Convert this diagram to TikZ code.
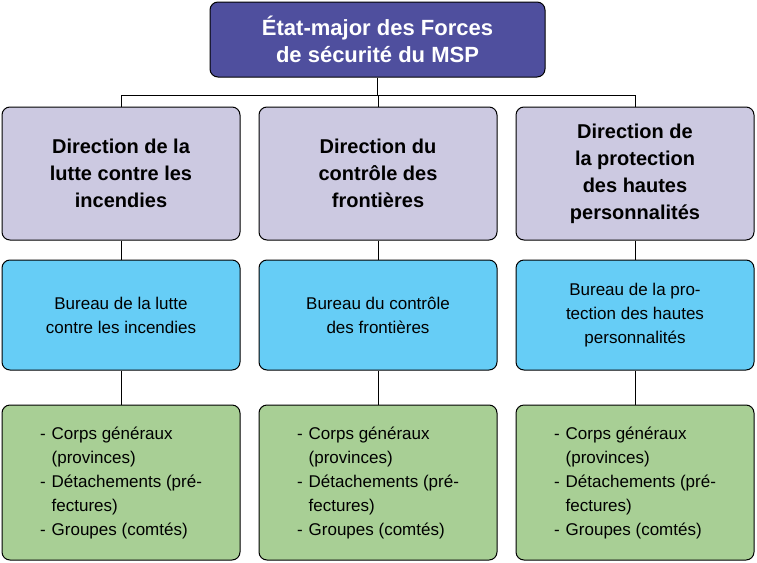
\documentclass[tikz,border=0pt]{standalone}
\usepackage{fontspec}
\setmainfont{Liberation Sans}
\definecolor{topblue}{HTML}{4F4F9E}
\definecolor{lav}{HTML}{CCC9E1}
\definecolor{skyb}{HTML}{66CDF6}
\definecolor{leaf}{HTML}{A8CF95}
\tikzset{
  box/.style={draw=black, line width=1pt, rounded corners=8pt, inner sep=0pt, align=center},
  headbox/.style={box, fill=topblue, text=white, minimum width=335pt, minimum height=75pt,
    font=\fontsize{22}{27}\selectfont\bfseries},
  dirbox/.style={box, fill=lav, minimum width=238pt, minimum height=133pt,
    font=\fontsize{20}{27}\selectfont\bfseries},
  bureaubox/.style={box, fill=skyb, minimum width=238pt, minimum height=110pt,
    font=\fontsize{17}{24}\selectfont},
  unitbox/.style={box, fill=leaf, minimum width=238pt, minimum height=155pt,
    font=\fontsize{17}{24}\selectfont, align=left},
  link/.style={line width=1pt}
}
\newcommand{\unitlist}{\begin{tabular}{@{}l@{\hspace{6pt}}l@{}}
-&Corps généraux\\&(provinces)\\
-&Détachements (pré-\\&fectures)\\
-&Groupes (comtés)\end{tabular}}
\begin{document}
\begin{tikzpicture}[x=1pt,y=1pt]
\useasboundingbox (0,0) rectangle (757,-562);
\node[headbox] (etat) at (377.5,-39.5) {État-major des Forces\\de sécurité du MSP};
\node[dirbox] (dirA) at (121,-173.5) {Direction de la\\lutte contre les\\incendies};
\node[dirbox] (dirB) at (378,-173.5) {Direction du\\contrôle des\\frontières};
\node[dirbox] (dirC) at (635,-173.5) {Direction de\\la protection\\des hautes\\personnalités};
\node[bureaubox] (burA) at (121,-315) {Bureau de la lutte\\contre les incendies};
\node[bureaubox] (burB) at (378,-315) {Bureau du contrôle\\des frontières};
\node[bureaubox] (burC) at (635,-315) {Bureau de la pro-\\tection des hautes\\personnalités};
\node[unitbox] (unitA) at (121,-482.5) {\unitlist};
\node[unitbox] (unitB) at (378,-482.5) {\unitlist};
\node[unitbox] (unitC) at (635,-482.5) {\unitlist};
\coordinate (fork) at (377.5,-95);
\draw[link] (etat.south) -- (fork);
\foreach \c in {A,B,C}{
  \draw[link] (fork) -| (dir\c.north);
  \draw[link] (dir\c) -- (bur\c);
  \draw[link] (bur\c) -- (unit\c);
}
\end{tikzpicture}
\end{document}
